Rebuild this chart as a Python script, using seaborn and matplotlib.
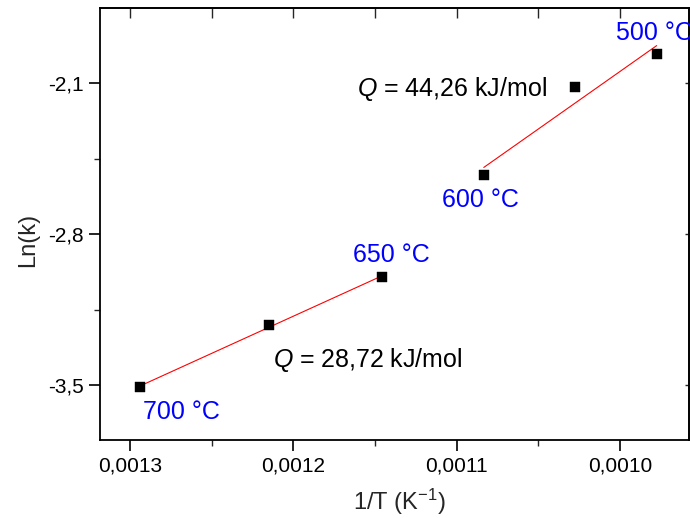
import numpy as np
import pandas as pd
import matplotlib
matplotlib.use("Agg")
import matplotlib.pyplot as plt
import seaborn as sns
from matplotlib.ticker import FixedLocator, FuncFormatter

# Data
inv_T = [0.0012937, 0.0012151, 0.0011455, 0.0010834, 0.0010277, 0.0009775]
ln_k = [-3.509, -3.222, -2.999, -2.527, -2.119, -1.966]
group = ["low", "low", "low", "high", "high", "high"]

x_ticks = [0.0013, 0.0012, 0.0011, 0.0010]
y_ticks = [-2.1, -2.8, -3.5]

temp_labels = ["700 °C", "650 °C", "600 °C", "500 °C"]
q_labels = ["$Q$ = 28,72 kJ/mol", "$Q$ = 44,26 kJ/mol"]

df = pd.DataFrame({"x": inv_T, "y": ln_k, "g": group})

sns.set_theme(style="ticks")
plt.rcParams["font.family"] = ["Liberation Sans", "DejaVu Sans"]
plt.rcParams["mathtext.fontset"] = "custom"
plt.rcParams["mathtext.rm"] = "Liberation Sans"
plt.rcParams["mathtext.it"] = "Liberation Sans:italic"

fig = plt.figure(figsize=(6.9, 5.18), dpi=100)
ax = fig.add_axes([0.145, 0.1506, 0.8536, 0.834])

for g in ["low", "high"]:
    sub = df[df.g == g]
    sns.regplot(data=sub, x="x", y="y", scatter=False, ci=None, ax=ax,
                line_kws=dict(color="red", lw=0.8))

sns.scatterplot(data=df, x="x", y="y", marker="s", s=48, color="black",
                edgecolor="black", linewidth=0.3, ax=ax, zorder=5)

ax.set_xlim(0.0013184, 0.0009577)
ax.set_ylim(-3.755, -1.752)

fmt_x = FuncFormatter(lambda v, p: f"{v:.4f}".replace(".", ","))
fmt_y = FuncFormatter(lambda v, p: f"{v:.1f}".replace(".", ","))
ax.xaxis.set_major_locator(FixedLocator(x_ticks))
ax.xaxis.set_minor_locator(FixedLocator([0.00125, 0.00115, 0.00105]))
ax.yaxis.set_major_locator(FixedLocator(y_ticks))
ax.yaxis.set_minor_locator(FixedLocator([-2.45, -3.15]))
ax.xaxis.set_major_formatter(fmt_x)
ax.yaxis.set_major_formatter(fmt_y)

ax.tick_params(axis="both", which="major", labelsize=15, length=8, width=1.2,
               direction="out", color="black", labelcolor="black")
ax.tick_params(axis="both", which="minor", length=4, width=1.0, direction="out")
ax.tick_params(axis="x", which="major", pad=4)

for s in ax.spines.values():
    s.set_linewidth(1.3)
    s.set_color("black")

# top and right tick marks (inward, no labels)
axt = ax.secondary_xaxis("top")
axt.xaxis.set_major_locator(FixedLocator(x_ticks + [0.00125, 0.00115, 0.00105]))
axt.tick_params(direction="in", length=7, width=1.0, labeltop=False)
axt.spines["top"].set_linewidth(1.3)
axr = ax.secondary_yaxis("right")
axr.yaxis.set_major_locator(FixedLocator(y_ticks))
axr.tick_params(direction="in", length=3, width=1.0, labelright=False)
axr.spines["right"].set_linewidth(1.3)

ax.set_xlabel("1/T (K$^{-1}$)", fontsize=17, va="center", ha="center")
ax.set_ylabel("Ln(k)", fontsize=17, va="center", ha="center")
ax.xaxis.set_label_coords(0.5076, -0.1435)
ax.yaxis.set_label_coords(-0.122, 0.463)

blue = "#0000ff"
ax.text(0.0012922, -3.624, temp_labels[0], color=blue, fontsize=18, ha="left", va="center")
ax.text(0.0011636, -2.897, temp_labels[1], color=blue, fontsize=18, ha="left", va="center")
ax.text(0.0011091, -2.642, temp_labels[2], color=blue, fontsize=18, ha="left", va="center")
ax.text(0.0010024, -1.868, temp_labels[3], color=blue, fontsize=18, ha="left", va="center",
        clip_on=False)
ax.text(0.0012124, -3.384, q_labels[0], color="black", fontsize=18, ha="left", va="center")
ax.text(0.0011612, -2.126, q_labels[1], color="black", fontsize=18, ha="left", va="center")

fig.savefig("out.png", dpi=100)
